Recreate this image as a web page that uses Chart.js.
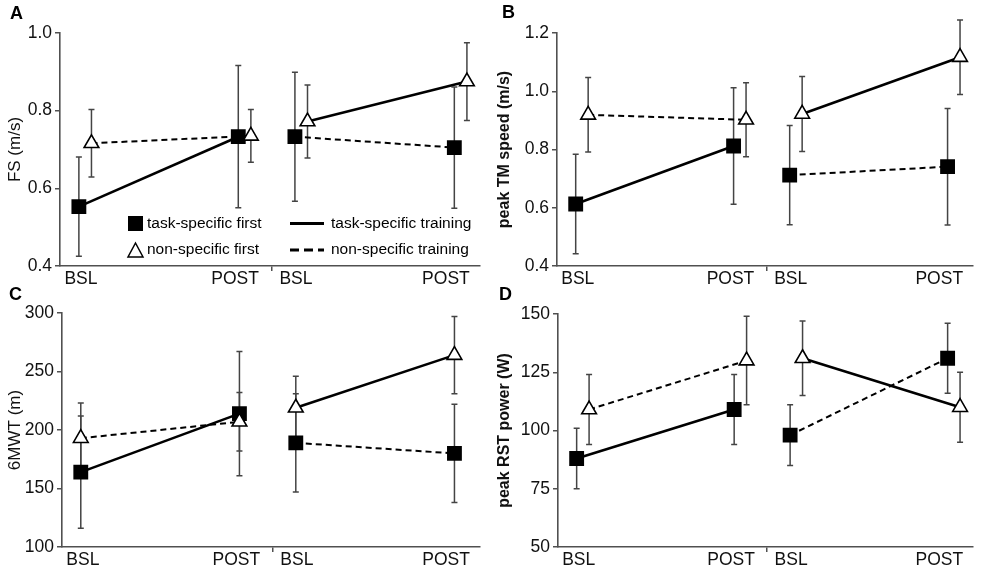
<!DOCTYPE html>
<html>
<head>
<meta charset="utf-8">
<script src="https://cdn.jsdelivr.net/npm/chart.js@4"></script>
<style>
  html, body { margin: 0; padding: 0; background: #fff; }
  #wrap { position: relative; width: 983px; height: 574px; }
  canvas { position: absolute; }
</style>
</head>
<body>
<div id="wrap">
  <canvas id="chartA" width="490" height="287" style="left:0;top:0"></canvas>
  <canvas id="chartB" width="493" height="287" style="left:490px;top:0"></canvas>
  <canvas id="chartC" width="490" height="287" style="left:0;top:287px"></canvas>
  <canvas id="chartD" width="493" height="287" style="left:490px;top:287px"></canvas>
</div>
<script>
// --- data ---
const timepoints = ['BSL', 'POST', 'BSL', 'POST'];
const groupNames = ['task-specific first', 'non-specific first'];
const trainingNames = ['task-specific training', 'non-specific training'];
const panelLetters = ['A', 'B', 'C', 'D'];
const axisTitles = ['FS (m/s)', 'peak TM speed (m/s)', '6MWT (m)', 'peak RST power (W)'];

// A: fastest walking speed
const fsTask = [0.553, 0.733, 0.733, 0.705];
const fsTaskErr = [0.128, 0.183, 0.166, 0.156];
const fsNon = [0.716, 0.735, 0.772, 0.875];
const fsNonErr = [0.087, 0.068, 0.094, 0.100];

// B: peak treadmill speed
const tmTask = [0.613, 0.812, 0.712, 0.741];
const tmTaskErr = [0.171, 0.200, 0.170, 0.200];
const tmNon = [0.919, 0.902, 0.922, 1.117];
const tmNonErr = [0.128, 0.127, 0.129, 0.128];

// C: six-minute walk test
const mwtTask = [164, 214, 189, 180];
const mwtTaskErr = [48, 53, 42, 42];
const mwtNon = [193, 207, 219, 264];
const mwtNonErr = [30, 25, 27, 33];

// D: peak recumbent stepper power
const rstTask = [88, 109, 98, 131];
const rstTaskErr = [13, 15, 13, 15];
const rstNon = [109, 130, 131, 110];
const rstNonErr = [15, 19, 16, 15];

// y axis ranges / tick labels
const yMin = [0.4, 0.4, 100, 50];
const yMax = [1.0, 1.2, 300, 150];
const yStep = [0.2, 0.2, 50, 25];
const yDecimals = [1, 1, 0, 0];

// --- layout ---
const timeX = [0.9, 8.5, 11.2, 18.8];   // where each timepoint sits on the 0..20 x scale
const labelX = [1.0, 8.35, 11.25, 18.4];
const sepX = 10.08;
const panels = [
  { id: 'chartA', yWidth: 60, padRight: 7, padTop: 33, xHeight: 21, jitter: 0.6, bold: false, lx: 10, ly: 8, legend: true },
  { id: 'chartB', yWidth: 67, padRight: 10, padTop: 33, xHeight: 21, jitter: 0.6, bold: true, lx: 12, ly: 7 },
  { id: 'chartC', yWidth: 62, padRight: 7, padTop: 26, xHeight: 27, jitter: 0, bold: false, lx: 9, ly: 2 },
  { id: 'chartD', yWidth: 68, padRight: 10, padTop: 27, xHeight: 27, jitter: 0.6, bold: true, lx: 9, ly: 2 }
];
const values = [
  [fsTask, fsTaskErr, fsNon, fsNonErr],
  [tmTask, tmTaskErr, tmNon, tmNonErr],
  [mwtTask, mwtTaskErr, mwtNon, mwtNonErr],
  [rstTask, rstTaskErr, rstNon, rstNonErr]
];

const FONT = "'Liberation Sans', Arial, sans-serif";
Chart.defaults.font.family = FONT;
Chart.defaults.color = '#111';
const AXIS = '#505050';

// error bars drawn behind the markers
const errorBars = {
  id: 'errorBars',
  beforeDatasetsDraw(chart) {
    const ctx = chart.ctx, ys = chart.scales.y;
    ctx.save();
    ctx.strokeStyle = '#444';
    ctx.lineWidth = 1.5;
    chart.data.datasets.forEach((ds, di) => {
      const meta = chart.getDatasetMeta(di);
      ds.errors.forEach((e, i) => {
        const x = meta.data[i].x;
        const top = ys.getPixelForValue(ds.data[i].y + e);
        const bot = ys.getPixelForValue(ds.data[i].y - e);
        ctx.beginPath();
        ctx.moveTo(x, top); ctx.lineTo(x, bot);
        ctx.moveTo(x - 3, top); ctx.lineTo(x + 3, top);
        ctx.moveTo(x - 3, bot); ctx.lineTo(x + 3, bot);
        ctx.stroke();
      });
    });
    ctx.restore();
  }
};

// panel letter + the legend in panel A
const decorations = {
  id: 'decorations',
  afterDraw(chart, args, opts) {
    const ctx = chart.ctx;
    ctx.save();
    ctx.fillStyle = '#000';
    ctx.font = 'bold 18px ' + FONT;
    ctx.textBaseline = 'top';
    ctx.fillText(opts.letter, opts.lx, opts.ly - 3);
    if (opts.legend) {
      ctx.font = '15.5px ' + FONT;
      ctx.textBaseline = 'middle';
      ctx.fillText(groupNames[0], 147, 223.5);
      ctx.fillText(groupNames[1], 147, 250);
      ctx.fillText(trainingNames[0], 331, 223.5);
      ctx.fillText(trainingNames[1], 331, 250);
      ctx.fillRect(128, 216, 15, 15);
      ctx.strokeStyle = '#000';
      ctx.lineWidth = 1.5;
      ctx.beginPath();
      ctx.moveTo(135.5, 243); ctx.lineTo(143, 257); ctx.lineTo(128, 257); ctx.closePath();
      ctx.stroke();
      ctx.lineWidth = 3;
      ctx.beginPath(); ctx.moveTo(290, 223.5); ctx.lineTo(324, 223.5); ctx.stroke();
      ctx.setLineDash([9, 5]);
      ctx.beginPath(); ctx.moveTo(290, 250); ctx.lineTo(324, 250); ctx.stroke();
    }
    ctx.restore();
  }
};

function lineSegment(taskFirst) {
  // period 1 = index 0->1, period 2 = index 2->3; no line between periods
  const isTask = c => (c.p0DataIndex === 0) === taskFirst;
  return {
    borderColor: c => c.p0DataIndex === 1 ? 'rgba(0,0,0,0)' : '#000',
    borderDash: c => isTask(c) ? [] : [6, 4],
    borderWidth: c => isTask(c) ? 2.6 : 2
  };
}

panels.forEach((P, k) => {
  const [task, taskErr, non, nonErr] = values[k];
  new Chart(document.getElementById(P.id), {
    type: 'line',
    data: {
      datasets: [
        {
          label: groupNames[1],
          data: non.map((v, i) => ({ x: timeX[i] + P.jitter, y: v })),
          errors: nonErr,
          pointStyle: 'triangle',
          pointRadius: 8.5,
          pointBackgroundColor: '#fff',
          pointBorderColor: '#000',
          pointBorderWidth: 1.6,
          borderColor: '#000',
          segment: lineSegment(false)
        },
        {
          label: groupNames[0],
          data: task.map((v, i) => ({ x: timeX[i], y: v })),
          errors: taskErr,
          pointStyle: 'rect',
          pointRadius: 10.5,
          pointBackgroundColor: '#000',
          pointBorderColor: '#000',
          pointBorderWidth: 0,
          borderColor: '#000',
          segment: lineSegment(true)
        }
      ]
    },
    options: {
      responsive: false,
      animation: false,
      events: [],
      layout: { padding: { left: 0, right: P.padRight, top: P.padTop, bottom: 0 } },
      plugins: {
        legend: { display: false },
        tooltip: { enabled: false },
        decorations: { letter: panelLetters[k], lx: P.lx, ly: P.ly, legend: !!P.legend }
      },
      scales: {
        x: {
          type: 'linear',
          min: 0,
          max: 20,
          afterFit: s => { s.height = P.xHeight; },
          afterBuildTicks: s => {
            s.ticks = [labelX[0], labelX[1], sepX, labelX[2], labelX[3]].map(v => ({ value: v }));
          },
          grid: {
            drawOnChartArea: false,
            drawTicks: true,
            tickLength: 5,
            lineWidth: 1.5,
            color: c => (c.tick && c.tick.value === sepX) ? AXIS : 'rgba(0,0,0,0)'
          },
          border: { display: true, color: AXIS, width: 1.6 },
          ticks: {
            autoSkip: false,
            maxRotation: 0,
            padding: -2,
            font: { size: 17.5 },
            color: '#111',
            callback: v => {
              const i = labelX.indexOf(v);
              return i >= 0 ? timepoints[i] : '';
            }
          }
        },
        y: {
          min: yMin[k],
          max: yMax[k],
          afterFit: s => { s.width = P.yWidth; },
          grid: {
            drawOnChartArea: false,
            drawTicks: true,
            tickLength: 5,
            lineWidth: 1.5,
            color: AXIS
          },
          border: { display: true, color: AXIS, width: 1.6 },
          ticks: {
            stepSize: yStep[k],
            padding: 3,
            font: { size: 17.5 },
            color: '#111',
            callback: v => v.toFixed(yDecimals[k])
          },
          title: {
            display: true,
            text: axisTitles[k],
            color: '#111',
            font: { size: P.bold ? 16 : 17, weight: P.bold ? 'bold' : 'normal' },
            padding: { top: 5, bottom: 0 }
          }
        }
      }
    },
    plugins: [errorBars, decorations]
  });
});
</script>
</body>
</html>
